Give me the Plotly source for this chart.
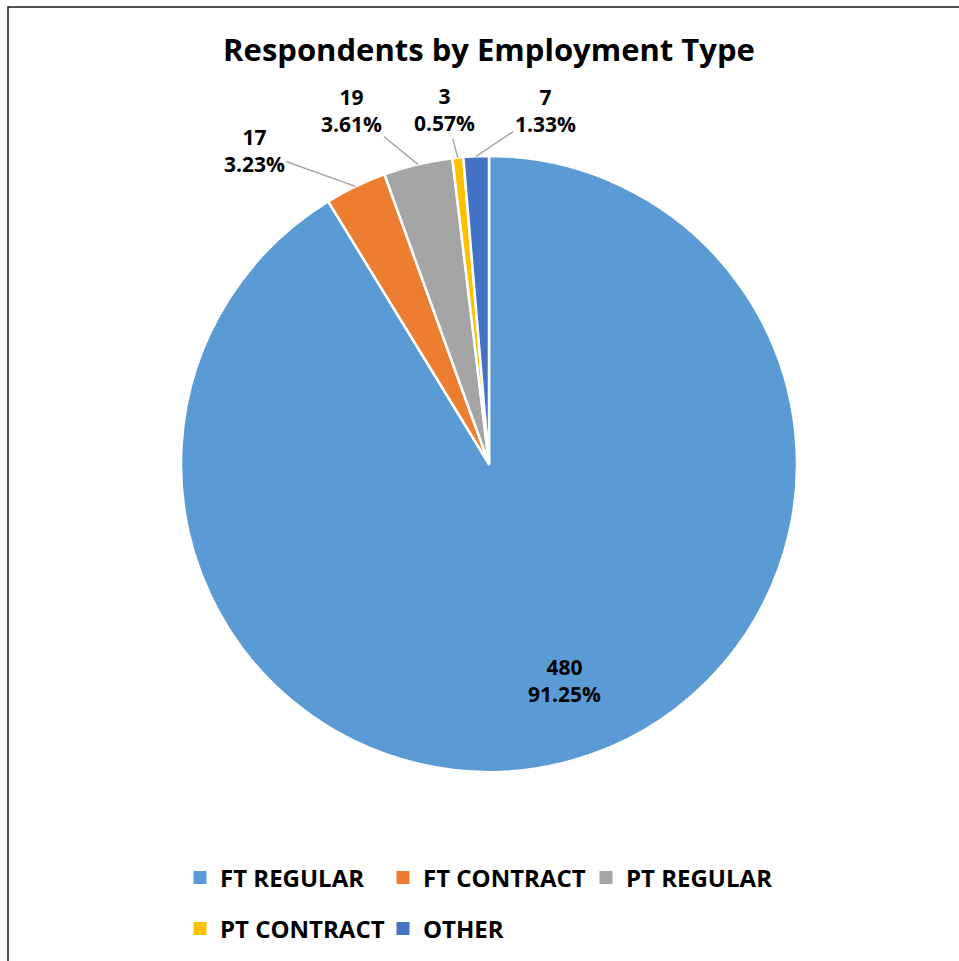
import math
import plotly.graph_objects as go

# ---- data ----
categories = ["FT REGULAR", "FT CONTRACT", "PT REGULAR", "PT CONTRACT", "OTHER"]
respondents = [480, 17, 19, 3, 7]
colors = ["#5B9BD5", "#ED7D31", "#A5A5A5", "#FFC000", "#4472C4"]
chart_title = "Respondents by Employment Type"

# ---- layout / style ----
W, H = 959, 961
CX, CY, R = 489, 464, 308          # pie centre and radius in px
FONT = "Open Sans"
# outside label offsets (px) from the slice rim to the label centre; None = inside label
label_offsets = [None, (-101, -36), (-66, -54), (-13, -48), (69, -46)]
inside_radius = 0.83
legend_row_of = [0, 0, 0, 1, 1]
legend_rows_y = [878, 929]
legend_left = 180

total = sum(respondents)

fig = go.Figure()
fig.add_trace(go.Pie(
    labels=categories,
    values=respondents,
    sort=False,
    direction="clockwise",
    rotation=0,
    marker=dict(colors=colors, line=dict(color="white", width=2.5)),
    textinfo="none",
    hoverinfo="label+value+percent",
    showlegend=False,
    domain=dict(x=[(CX - R) / W, (CX + R) / W],
                y=[(H - CY - R) / H, (H - CY + R) / H]),
))

# legend entries, one legend per row
for name, col, row in zip(categories, colors, legend_row_of):
    fig.add_trace(go.Scatter(
        x=[None], y=[None], mode="markers", name=name,
        marker=dict(symbol="square", size=13, color=col),
        legend="legend" if row == 0 else "legend2",
        hoverinfo="skip",
    ))

# data labels placed from the slice geometry
annotations = []
cum = 0
for v, off in zip(respondents, label_offsets):
    mid = (cum + v / 2) / total * 2 * math.pi
    cum += v
    s, c = math.sin(mid), math.cos(mid)
    text = f"{v}<br>{v / total * 100:.2f}%"
    font = dict(family=FONT, size=21, color="black", weight="bold")
    if off is None:
        px, py = CX + inside_radius * R * s, CY - inside_radius * R * c
        annotations.append(dict(
            x=px / W, y=1 - py / H, xref="paper", yref="paper",
            text=text, showarrow=False, font=font, xshift=6,
        ))
    else:
        px, py = CX + R * s, CY - R * c
        annotations.append(dict(
            x=px / W, y=1 - py / H, xref="paper", yref="paper",
            text=text, showarrow=True, arrowhead=0, arrowwidth=1.5,
            arrowcolor="#A6A6A6", ax=off[0], ay=off[1],
            standoff=0, startstandoff=0, font=font,
        ))

legend_common = dict(
    orientation="h", xanchor="left", yanchor="middle",
    x=legend_left / W, entrywidth=158, entrywidthmode="pixels",
    font=dict(family=FONT, size=24, color="black", weight="bold"),
    bgcolor="rgba(0,0,0,0)",
)

fig.update_layout(
    width=W, height=H,
    margin=dict(l=0, r=0, t=0, b=0),
    paper_bgcolor="white", plot_bgcolor="white",
    title=dict(text=chart_title, x=CX / W, xanchor="center",
               y=1 - 50 / H, yanchor="middle",
               font=dict(family=FONT, size=31, color="black", weight="bold")),
    xaxis=dict(visible=False), yaxis=dict(visible=False),
    legend=dict(**legend_common, y=1 - legend_rows_y[0] / H),
    legend2=dict(**legend_common, y=1 - legend_rows_y[1] / H),
    annotations=annotations,
    shapes=[dict(type="rect", xref="paper", yref="paper",
                 x0=8 / W, x1=1.05, y0=-0.05, y1=1 - 7 / H,
                 line=dict(color="#1a1a1a", width=1.5))],
)

fig.write_html("out.html")
